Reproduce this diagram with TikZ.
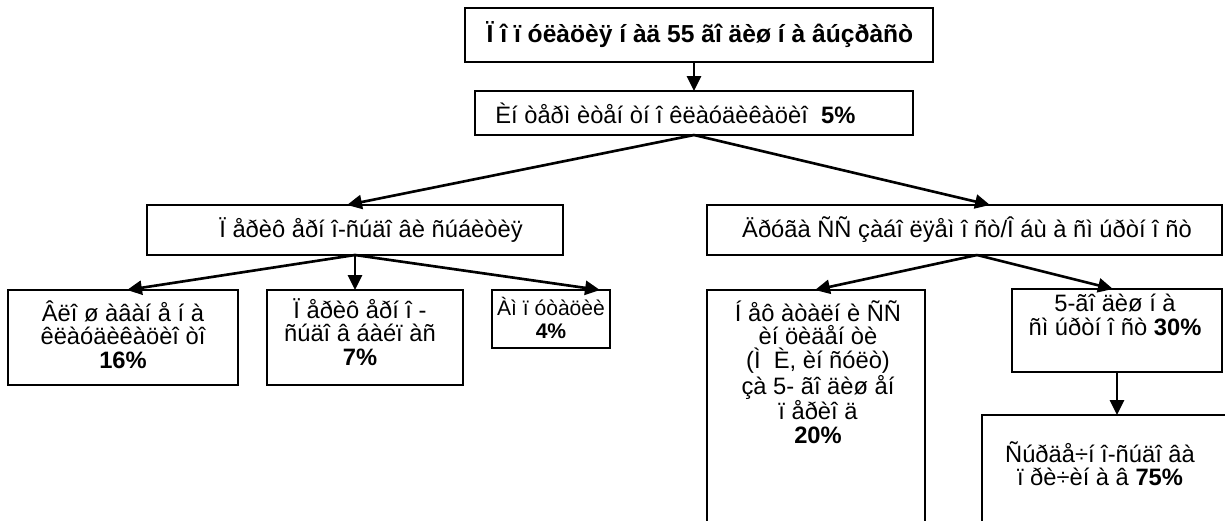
\documentclass[tikz,border=0pt]{standalone}
\usepackage{fontspec}
\setmainfont{Liberation Sans}
\usetikzlibrary{arrows.meta}
\usetikzlibrary{fit}
\newcommand{\ramka}[5]{\node[box, fit={(#2,#3) (#4,#5)}] (#1) {};}
\newcommand{\napis}[4]{\node[txt] (#1) at ( #2 , #3 ) {#4};}
\tikzset{
  box/.style={draw, line width=1.1pt, inner sep=0pt, outer sep=0pt},
  txt/.style={align=center, inner sep=0pt, font=\fontsize{13.5}{13.4}\selectfont},
  strelka/.style={line width=1.5pt, -{Triangle[length=8.5pt,width=8pt]}}
}

\begin{document}
\begin{tikzpicture}[x=0.02cm, y=-0.02cm]

        \useasboundingbox (0,0) rectangle (1225,521);
        \clip (0,0) rectangle (1225,521);

        % level 1
        \ramka{b1}{465}{8}{933}{62}
        \node[txt, font=\fontsize{14}{14}\selectfont\bfseries] (n1) at (700,35) {Ï î ï óëàöèÿ í àä 55 ãî äèø í à âúçðàñò};

        % level 2
        \ramka{b2}{475}{91}{913}{135}
        \node[txt, anchor=west] (n2) at (495,113) {Èí òåðì èòåí òí î êëàóäèêàöèî \ \textbf{5\%}};

        % level 3
        \ramka{b3}{147}{205}{563}{255}
        \napis{n3}{371}{230}{Ï åðèô åðí î-ñúäî âè ñúáèòèÿ}
        \ramka{b4}{707}{205}{1222}{255}
        \napis{n4}{967}{230}{Äðóãà ÑÑ çàáî ëÿåì î ñò/Î áù à ñì úðòí î ñò}

        % level 4
        \ramka{b5}{8}{290}{238}{385}
        \node[txt, anchor=north] (n5) at (123,300) {Âëî ø àâàí å í à\\êëàóäèêàöèî òî\\\textbf{16\%}};
        \ramka{b6}{267}{290}{463}{385}
        \node[txt, anchor=north] (n6) at (360,298) {Ï åðèô åðí î -\\ñúäî â áàéï àñ\\\textbf{7\%}};
        \ramka{b7}{492}{290}{610}{348}
        \node[txt, anchor=north, font=\fontsize{12}{13}\selectfont] (n7) at (551,297) {Àì ï óòàöèè\\\textbf{4\%}};
        \ramka{b8}{707}{290}{925}{540}
        \node[txt, anchor=north] (n8) at (818,300) {Í åô àòàëí è ÑÑ\\èí öèäåí òè\\(Ì \ È, èí ñóëò)\\çà 5- ãî äèø åí\\ï åðèî ä\\\textbf{20\%}};
        \ramka{b9}{1012}{289}{1222}{372}
        \node[txt, anchor=north] (n9) at (1115,294) {5-ãî äèø í à\\ñì úðòí î ñò \textbf{30\%}};

        % level 5
        \ramka{b10}{982}{415}{1245}{540}
        \node[txt, anchor=north] (n10) at (1100,441) {Ñúðäå÷í î-ñúäî âà\\ï ðè÷èí à â \textbf{75\%}};

        % arrow ends
        \coordinate (t3) at (347,205);
        \coordinate (t4) at (990,205);
        \coordinate (t5) at (127,290);
        \coordinate (t7) at (600,290);
        \coordinate (o4) at (977,255);
        \coordinate (t8) at (815,290);
        \coordinate (t9) at (1113,289);

        \draw[strelka] (b2.north |- b1.south) -- (b2.north);
        \draw[strelka] (b2.south) -- (t3);
        \draw[strelka] (b2.south) -- (t4);
        \draw[strelka] (b3.south) -- (t5);
        \draw[strelka] (b3.south) -- (b3.south |- b6.north);
        \draw[strelka] (b3.south) -- (t7);
        \draw[strelka] (o4) -- (t8);
        \draw[strelka] (o4) -- (t9);
        \draw[strelka] (b9.south) -- (b9.south |- b10.north);

    \end{tikzpicture}
\end{document}
